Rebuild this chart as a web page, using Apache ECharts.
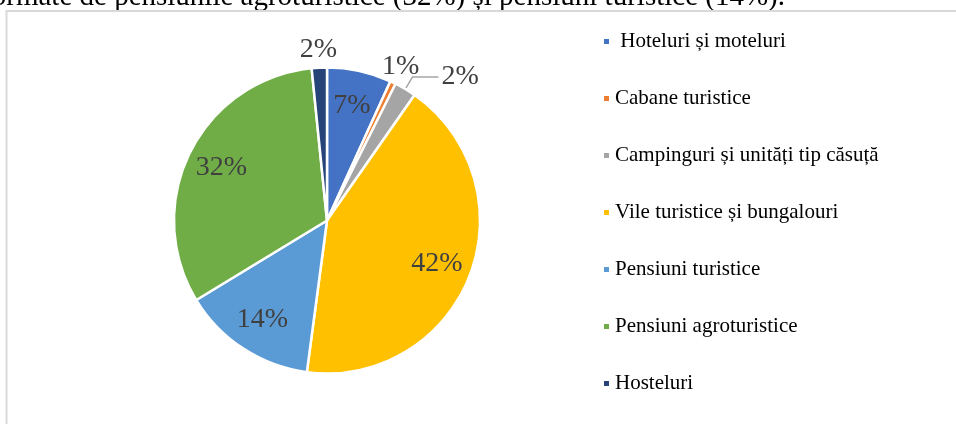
<!DOCTYPE html>
<html>
<head>
<meta charset="utf-8">
<script src="https://cdn.jsdelivr.net/npm/echarts@6/dist/echarts.min.js"></script>
<style>
  html, body { margin: 0; padding: 0; background: #fff; }
  #chart { width: 956px; height: 424px; }
</style>
</head>
<body>
<div id="chart"></div>
<script>
// categorii (ordinea din legendă, începând de la ora 12, în sensul acelor)
const categories = [
    ' Hoteluri și moteluri',
    'Cabane turistice',
    'Campinguri și unități tip căsuță',
    'Vile turistice și bungalouri',
    'Pensiuni turistice',
    'Pensiuni agroturistice',
    'Hosteluri'
];
// ponderi estimate (%)
const shares = [6.8, 0.6, 2.3, 42.4, 14.2, 32.1, 1.6];
// unde stă eticheta: in = în interior, out = deasupra, line = cu linie de ghidare
const labelPlace = ['in', 'out', 'line', 'in', 'in', 'in', 'out'];

const colors = ['#4472C4', '#ED7D31', '#A5A5A5', '#FFC000', '#5B9BD5', '#70AD47', '#264478'];

const font = '"Liberation Serif", "Times New Roman", serif';
const center = [327, 220.5];

const labelText = {
    fontFamily: font,
    fontSize: 28,
    color: '#404040'
};

// serie "fantomă" doar pentru a pune etichetele la distanța dorită de centru
const ghost = (place, radius) => ({
    type: 'pie',
    center: center,
    radius: radius,
    silent: true,
    percentPrecision: 0,
    avoidLabelOverlap: false,
    itemStyle: { color: 'rgba(0,0,0,0)' },
    labelLine: { show: false },
    emphasis: { disabled: true },
    animation: false,
    data: categories.map((name, i) => ({
        name: name,
        value: shares[i],
        label: {
            show: labelPlace[i] === place,
            position: 'inside',
            formatter: '{d}%',
            ...labelText
        }
    }))
});

const chart = echarts.init(document.getElementById('chart'));

chart.setOption({
    color: colors,
    animation: false,
    legend: {
        orient: 'vertical',
        left: 597,
        top: 26,
        itemWidth: 7,
        itemHeight: 7,
        itemGap: 36,
        icon: 'rect',
        textStyle: {
            fontFamily: font,
            fontSize: 21,
            lineHeight: 21,
            color: '#000',
            padding: [0, 0, 0, 0]
        },
        data: categories
    },
    graphic: [
        {
            type: 'text',
            right: 171,
            top: -17,
            style: {
                text: 'formate de pensiunile agroturistice (32%) și pensiuni turistice (14%).',
                font: '29px ' + font,
                fill: '#000'
            }
        },
        {
            type: 'rect',
            shape: { x: 6.5, y: 11, width: 1000, height: 500 },
            style: { fill: 'none', stroke: '#d9d9d9', lineWidth: 2 },
            silent: true
        }
    ],
    series: [
        {
            type: 'pie',
            center: center,
            radius: 153,
            percentPrecision: 0,
            avoidLabelOverlap: false,
            itemStyle: { borderColor: '#fff', borderWidth: 2.5 },
            emphasis: { scale: false },
            labelLine: {
                length: 14,
                length2: 26,
                lineStyle: { color: '#a6a6a6', width: 1.5 }
            },
            data: categories.map((name, i) => ({
                name: name,
                value: shares[i],
                label: {
                    show: labelPlace[i] === 'line',
                    position: 'outside',
                    formatter: '{d}%',
                    distanceToLabelLine: 3,
                    ...labelText
                },
                labelLine: { show: labelPlace[i] === 'line' }
            }))
        },
        ghost('in', 230),
        ghost('out', 336)
    ]
});
</script>
</body>
</html>
